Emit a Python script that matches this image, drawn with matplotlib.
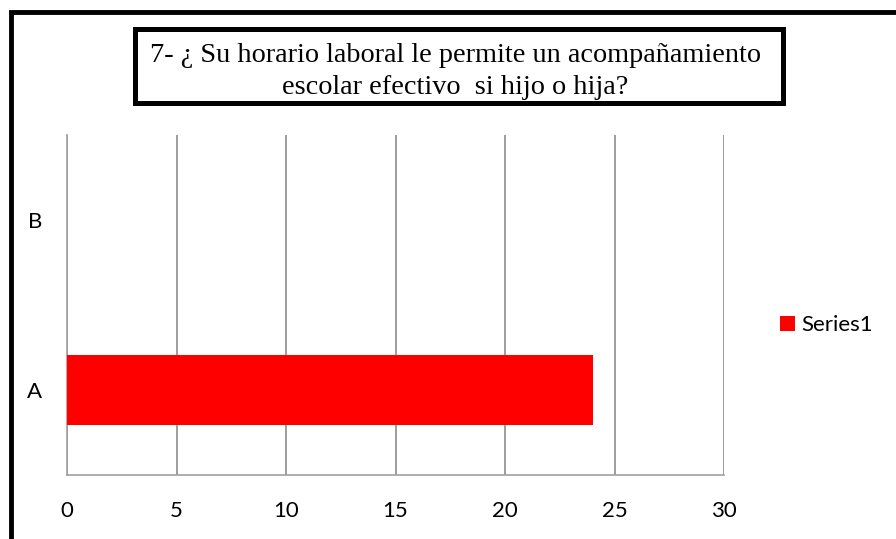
import matplotlib.pyplot as plt
from matplotlib.patches import Rectangle

# chart data
categories = ['A', 'B']
values = [24, 0]
xticks = [0, 5, 10, 15, 20, 25, 30]
title_lines = ['7- ¿ Su horario laboral le permite un acompañamiento',
               'escolar efectivo  si hijo o hija?']
series_name = 'Series1'

W, H = 896, 539
fig = plt.figure(figsize=(W / 100, H / 100), dpi=100)

# plot area in pixel coords
left, right, top, bottom = 67, 724, 135, 475
ax = fig.add_axes([left / W, 1 - bottom / H, (right - left) / W, (bottom - top) / H])

ax.barh(categories, values, height=0.41, color='#ff0000', label=series_name, zorder=3)
ax.set_xlim(0, 30)
ax.set_ylim(-0.5, 1.5)
ax.set_xticks(xticks)
ax.xaxis.grid(True, color='#8c8c8c', linewidth=1.2, zorder=0)
ax.tick_params(axis='both', length=0, labelsize=16)
ax.tick_params(axis='x', pad=19)
ax.tick_params(axis='y', pad=18)
for lab in ax.get_xticklabels() + ax.get_yticklabels():
    lab.set_family(['Lato', 'DejaVu Sans'])
for s in ['top', 'right']:
    ax.spines[s].set_visible(False)
for s in ['left', 'bottom']:
    ax.spines[s].set_color('#a0a0a0')
    ax.spines[s].set_linewidth(1.2)

# legend
fig.legend(loc='center left', bbox_to_anchor=(780 / W, 1 - 325 / H), frameon=False,
           borderaxespad=0, borderpad=0,
           handlelength=0.68, handleheight=0.68, handletextpad=0.3,
           prop={'family': 'Lato', 'size': 16})

# title box, one text per line so the baselines can be placed
for line, base in zip(title_lines, [62, 94]):
    fig.text(455 / W, 1 - base / H, line, ha='center', va='baseline', fontsize=20.3,
             family='Liberation Serif')
fig.patches.append(Rectangle((134.5 / W, 1 - 102.5 / H), (782.5 - 134.5) / W, (102.5 - 28.5) / H,
                             transform=fig.transFigure, fill=False, edgecolor='black',
                             linewidth=3.6))

# outer chart border (runs off the right and bottom edges)
fig.patches.append(Rectangle((10.5 / W, -0.1), 1.2, 1 - 12.5 / H + 0.1,
                             transform=fig.transFigure, fill=False, edgecolor='black',
                             linewidth=3.5))

fig.savefig('out.png', dpi=100)
